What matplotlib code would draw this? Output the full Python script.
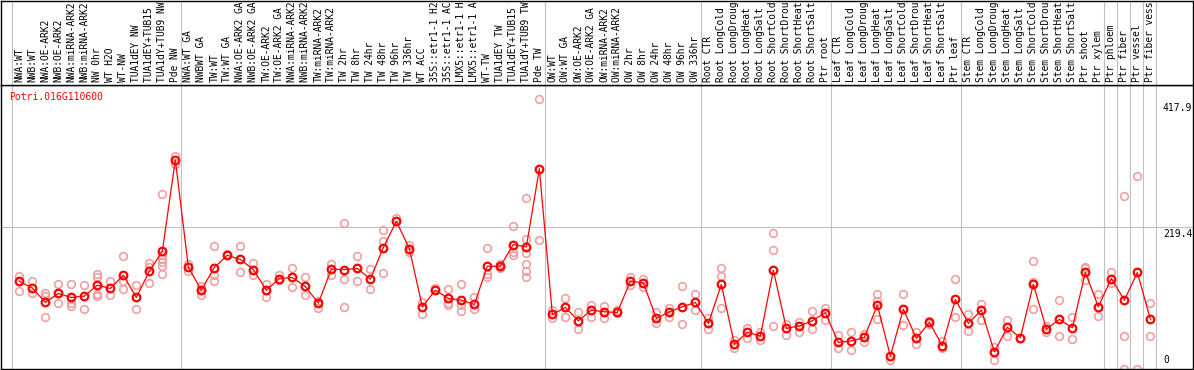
import matplotlib
matplotlib.use("Agg")
import matplotlib.pyplot as plt
import matplotlib.transforms as mtransforms

# --- data ---
gene = "Potri.016G110600"

labels = [
    "NWA:WT", "NWB:WT", "NWA:OE-ARK2", "NWB:OE-ARK2", "NWA:miRNA-ARK2",
    "NWB:miRNA-ARK2", "NW 0hr", "WT H2O", "WT-NW", "TUA1dEY NW",
    "TUA1dEY+TUB15 NW", "TUA1dY+TUB9 NW", "Pde NW",
    "NWA:WT GA", "NWBWT GA", "TW:WT", "TW:WT GA", "NWA:OE-ARK2 GA",
    "NWB:OE-ARK2 GA", "TW:OE-ARK2", "TW:OE-ARK2 GA", "NWA:miRNA-ARK2 GA",
    "NWB:miRNA-ARK2 GA", "TW:miRNA-ARK2", "TW:miRNA-ARK2 GA", "TW 2hr",
    "TW 8hr", "TW 24hr", "TW 48hr", "TW 96hr", "TW 336hr", "WT ACC",
    "35S::etr1-1 H2O", "35S::etr1-1 ACC", "LMX5::etr1-1 H2O",
    "LMX5::etr1-1 ACC", "WT-TW", "TUA1dEY TW", "TUA1dEY+TUB15 TW",
    "TUA1dY+TUB9 TW", "Pde TW",
    "OW:WT", "OW:WT GA", "OW:OE-ARK2", "OW:OE-ARK2 GA", "OW:miRNA-ARK2",
    "OW:miRNA-ARK2 GA", "OW 2hr", "OW 8hr", "OW 24hr", "OW 48hr", "OW 96hr",
    "OW 336hr",
    "Root CTR", "Root LongCold", "Root LongDrought", "Root LongHeat",
    "Root LongSalt", "Root ShortCold", "Root ShortDrought", "Root ShortHeat",
    "Root ShortSalt", "Ptr root",
    "Leaf CTR", "Leaf LongCold", "Leaf LongDrought", "Leaf LongHeat",
    "Leaf LongSalt", "Leaf ShortCold", "Leaf ShortDrought", "Leaf ShortHeat",
    "Leaf ShortSalt", "Ptr leaf",
    "Stem CTR", "Stem LongCold", "Stem LongDrought", "Stem LongHeat",
    "Stem LongSalt", "Stem ShortCold", "Stem ShortDrought", "Stem ShortHeat",
    "Stem ShortSalt", "Ptr shoot", "Ptr xylem",
    "Ptr phloem", "Ptr fiber", "Ptr vessel", "Ptr fiber vessel",
]

means = [
    135.2, 125.4, 102.8, 116.7, 110.5, 112.6, 129.5, 124.4, 145.0, 110.5,
    151.1, 182.0, 323.3, 157.3, 121.8, 156.8, 175.8, 169.2, 153.7, 121.8,
    139.8, 141.4, 127.5, 101.8, 154.2, 153.7, 155.3, 138.8, 187.7, 228.2,
    186.1, 96.1, 121.8, 109.0, 106.4, 99.8, 158.8, 158.8, 192.3, 188.6,
    309.5, 84.3, 95.1, 74.5, 91.0, 88.4, 87.4, 135.7, 133.1, 78.2,
    88.4, 96.1, 102.8, 70.5, 130.6, 38.5, 56.6, 50.9, 152.7, 62.8,
    66.5, 74.5, 86.8, 41.1, 43.2, 48.8, 98.7, 20.0, 92.5, 47.3,
    72.0, 36.0, 107.5, 70.5, 91.0, 26.7, 64.3, 48.3, 131.0, 61.7,
    76.6, 63.7, 149.1, 96.1, 139.8, 106.4, 149.1, 77.1,
]

replicates = [
    [143.4, 120.3], [135.7, 116.7], [116.7, 112.6, 79.7], [130.6, 102.2],
    [131.0, 101.3, 97.1], [129.5, 92.0], [147.5, 142.3, 115.2, 113.0],
    [136.2, 114.1], [175.3, 135.2, 122.9], [129.5, 92.0],
    [164.5, 157.7, 132.2], [270.9, 175.8, 170.7, 165.5, 159.3, 147.5],
    [329.5, 316.1],
    [161.9, 151.1], [128.0, 113.6], [189.7, 146.0, 135.7], [177.3],
    [189.7, 149.1], [163.9, 145.0], [131.0, 110.5], [145.0, 137.2],
    [156.8, 126.0], [141.4, 114.1], [105.3, 94.5], [161.9, 146.0],
    [226.2, 139.8, 95.1], [174.2, 135.7], [154.2, 122.9],
    [215.4, 197.4, 148.5], [233.9], [191.2, 180.9], [103.8, 84.3], [125.4],
    [122.9, 102.2, 98.7], [131.0, 98.2, 89.4], [111.5, 93.0],
    [187.7, 146.5, 141.4], [163.0, 155.3], [221.6, 180.9, 175.8],
    [264.8, 201.5, 179.3, 163.0, 151.6, 141.4], [417.9, 200.0],
    [91.0, 79.1], [109.0, 80.6], [87.4, 61.2], [98.7, 79.7], [97.1, 79.1],
    [91.0, 85.9], [142.3, 129.5], [138.3, 126.0], [88.4, 71.4],
    [93.6, 80.6], [128.0, 68.9], [115.7, 91.0],
    [78.2, 61.2], [156.2, 143.4, 93.6], [44.7, 32.8], [62.8, 48.3],
    [57.5, 44.7], [210.8, 183.5, 66.3], [69.4, 52.4], [72.9, 57.5],
    [89.4, 61.2], [93.6, 75.6],
    [52.4, 31.9], [56.6, 29.3], [54.0, 42.1], [115.2, 105.3, 76.6], [13.9],
    [115.2, 67.8], [57.5, 38.5], [74.0, 70.0], [43.7, 31.9], [138.3, 79.7],
    [84.3, 59.1], [100.2, 75.6], [34.4, 13.9], [75.6, 51.4], [48.3],
    [166.5, 134.6, 92.5], [66.8, 56.6], [106.4, 51.4], [79.7, 46.3],
    [157.7, 155.3, 137.2], [115.2, 81.7], [149.1, 132.2],
    [267.2, 51.4, 0.0], [298.1, 0.0], [101.3, 51.4],
]

# last sample index of each group (vertical separators)
group_ends = [12, 40, 52, 62, 72, 83, 84, 85, 86, 87]

y_max = 417.9
y_mid = 219.4


def main():
    W, H = 1194, 370
    fig = plt.figure(figsize=(W / 100, H / 100), dpi=100)
    fig.patch.set_facecolor("white")

    mono = "DejaVu Sans Mono"
    grid_c = "#c0c0c0"
    xlim = (-1.41, 90.28)

    ax = fig.add_axes([1 / W, 1 / H, 1192 / W, 284 / H])
    lab = fig.add_axes([1 / W, 285 / H, 1192 / W, 84.5 / H])

    for a in (ax, lab):
        a.set_xlim(*xlim)
        a.set_xticks([])
        a.set_yticks([])
        for s in a.spines.values():
            s.set_linewidth(1.0)
            s.set_color("black")
        for e in [-1] + group_ends:
            a.axvline(e + 0.4, color=grid_c, lw=0.8, zorder=0)

    ax.set_ylim(0, 2 * y_mid)
    ax.axhline(y_mid, color=grid_c, lw=0.8, zorder=0)

    # replicate points
    for i, vals in enumerate(replicates):
        ax.plot([i] * len(vals), vals, "o", mfc="none", mec="#f0a0a0",
                ms=5.5, mew=1.2, zorder=2)

    idx = list(range(len(means)))
    ax.plot(idx, means, "-", color="red", lw=0.9, zorder=3)
    ax.plot(idx, means, "o", mfc="none", mec="red", ms=5.5, mew=1.6, zorder=4)

    ax.text(0.007, 0.959, gene, transform=ax.transAxes, color="red",
            fontsize=7, family=mono, ha="left", va="center")

    # right-hand value labels
    tr = mtransforms.blended_transform_factory(ax.transAxes, ax.transData)
    off = lambda dy: mtransforms.offset_copy(tr, fig=fig, x=0, y=dy, units="dots")
    ax.text(0.9748, y_max, f"{y_max:.1f}", transform=off(-4), fontsize=7,
            family=mono, ha="left", va="top")
    ax.text(0.9748, y_mid, f"{y_mid:.1f}", transform=off(-2), fontsize=7,
            family=mono, ha="left", va="top")
    ax.text(0.9748, 0, "0", transform=off(4), fontsize=7,
            family=mono, ha="left", va="bottom")

    # rotated sample labels in the header strip
    lab.set_ylim(0, 84.5)
    for i, name in enumerate(labels):
        lab.text(i, 2.5, name, rotation=90, ha="center", va="bottom",
                 fontsize=6.9, family=mono, clip_on=True)

    fig.savefig("out.png", dpi=100)
    plt.close(fig)


if __name__ == "__main__":
    main()
